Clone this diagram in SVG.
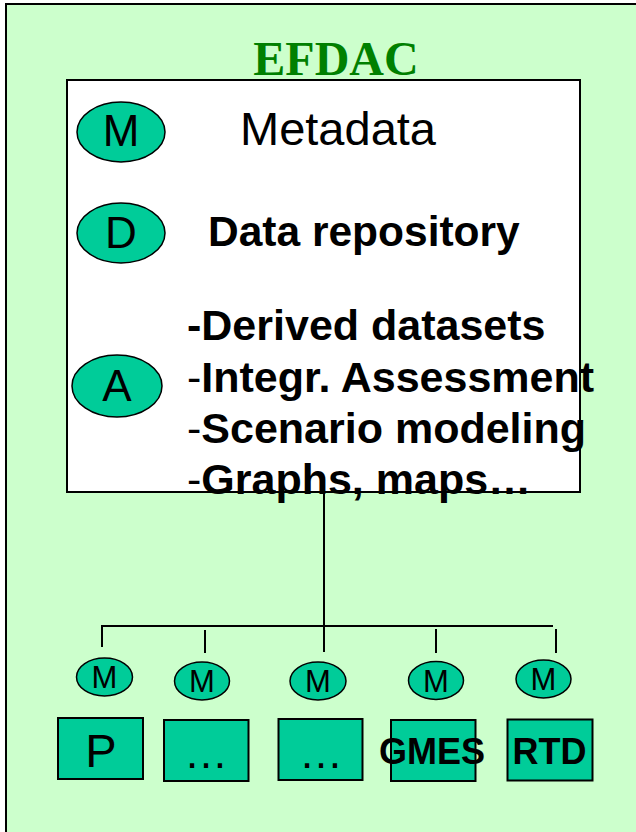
<svg xmlns="http://www.w3.org/2000/svg" width="636" height="832" viewBox="0 0 636 832">
<style>
.ell{fill:#00CC99;stroke:#000;stroke-width:1.5}
.box{fill:#00CC99;stroke:#000;stroke-width:2}
.ln{stroke:#000;stroke-width:2;fill:none}
.t{font-family:"Liberation Sans",Arial,sans-serif;fill:#000}
.b{font-weight:bold}
</style>
<rect x="6" y="4" width="640" height="840" fill="#CCFFCC" stroke="#000" stroke-width="2"/>
<text x="336" y="75" text-anchor="middle" font-family="'Liberation Serif','Times New Roman',serif" font-weight="bold" font-size="48" fill="#008000">EFDAC</text>
<g id="efdac-box">
<rect x="67" y="80" width="513" height="412" fill="#fff" stroke="#000" stroke-width="2"/>
</g>
<g id="node-M-main">
<ellipse class="ell" cx="121" cy="132" rx="44" ry="30"/>
<text class="t" x="121" y="146" text-anchor="middle" font-size="44">M</text>
<text class="t" x="240" y="145" font-size="47">Metadata</text>
</g>
<g id="node-D">
<ellipse class="ell" cx="121" cy="233" rx="44" ry="30"/>
<text class="t" x="121" y="248" text-anchor="middle" font-size="44">D</text>
<text class="t b" x="208" y="246" font-size="42.5">Data repository</text>
</g>
<g id="node-A">
<ellipse class="ell" cx="117" cy="386" rx="45" ry="31"/>
<text class="t" x="117" y="401" text-anchor="middle" font-size="44">A</text>
<text class="t b" x="187" y="340" font-size="43">-Derived datasets</text>
<text class="t" x="187" y="392" font-size="43">-<tspan class="b">Integr. Assessment</tspan></text>
<text class="t" x="187" y="443" font-size="43">-<tspan class="b">Scenario modeling</tspan></text>
<text class="t" x="187" y="494" font-size="43">-<tspan class="b">Graphs, maps…</tspan></text>
</g>
<g id="connectors">
<line class="ln" x1="324" y1="492" x2="324" y2="652"/>
<line class="ln" x1="101" y1="626" x2="553" y2="626"/>
<line class="ln" x1="102" y1="626" x2="102" y2="647"/>
<line class="ln" x1="205" y1="630" x2="205" y2="653"/>
<line class="ln" x1="436" y1="629" x2="436" y2="653"/>
<line class="ln" x1="556" y1="629" x2="556" y2="653"/>
</g>
<g id="node-P">
<ellipse class="ell" cx="104.5" cy="677" rx="28" ry="19"/>
<text class="t" x="104.5" y="688" text-anchor="middle" font-size="31">M</text>
<rect class="box" x="58" y="718" width="85" height="61"/>
<text class="t" x="101" y="767" text-anchor="middle" font-size="47">P</text>
</g>
<g id="node-dots1">
<ellipse class="ell" cx="202" cy="681" rx="27.5" ry="19"/>
<text class="t" x="202" y="692" text-anchor="middle" font-size="31">M</text>
<rect class="box" x="164" y="720" width="84.5" height="61"/>
<text class="t" x="206" y="768" text-anchor="middle" font-size="44">…</text>
</g>
<g id="node-dots2">
<ellipse class="ell" cx="318" cy="681" rx="28" ry="19"/>
<text class="t" x="318" y="692" text-anchor="middle" font-size="31">M</text>
<rect class="box" x="278.5" y="719" width="84" height="61"/>
<text class="t" x="321" y="768" text-anchor="middle" font-size="44">…</text>
</g>
<g id="node-GMES">
<ellipse class="ell" cx="436" cy="680.5" rx="27.5" ry="19"/>
<text class="t" x="436" y="691.5" text-anchor="middle" font-size="31">M</text>
<rect class="box" x="391" y="720" width="84.5" height="61"/>
<text class="t b" x="432" y="764" text-anchor="middle" font-size="36">GMES</text>
</g>
<g id="node-RTD">
<ellipse class="ell" cx="543.5" cy="679" rx="27.5" ry="19"/>
<text class="t" x="543.5" y="690" text-anchor="middle" font-size="31">M</text>
<rect class="box" x="507.5" y="719.5" width="85" height="61"/>
<text class="t b" x="549.5" y="764" text-anchor="middle" font-size="36">RTD</text>
</g>
</svg>
